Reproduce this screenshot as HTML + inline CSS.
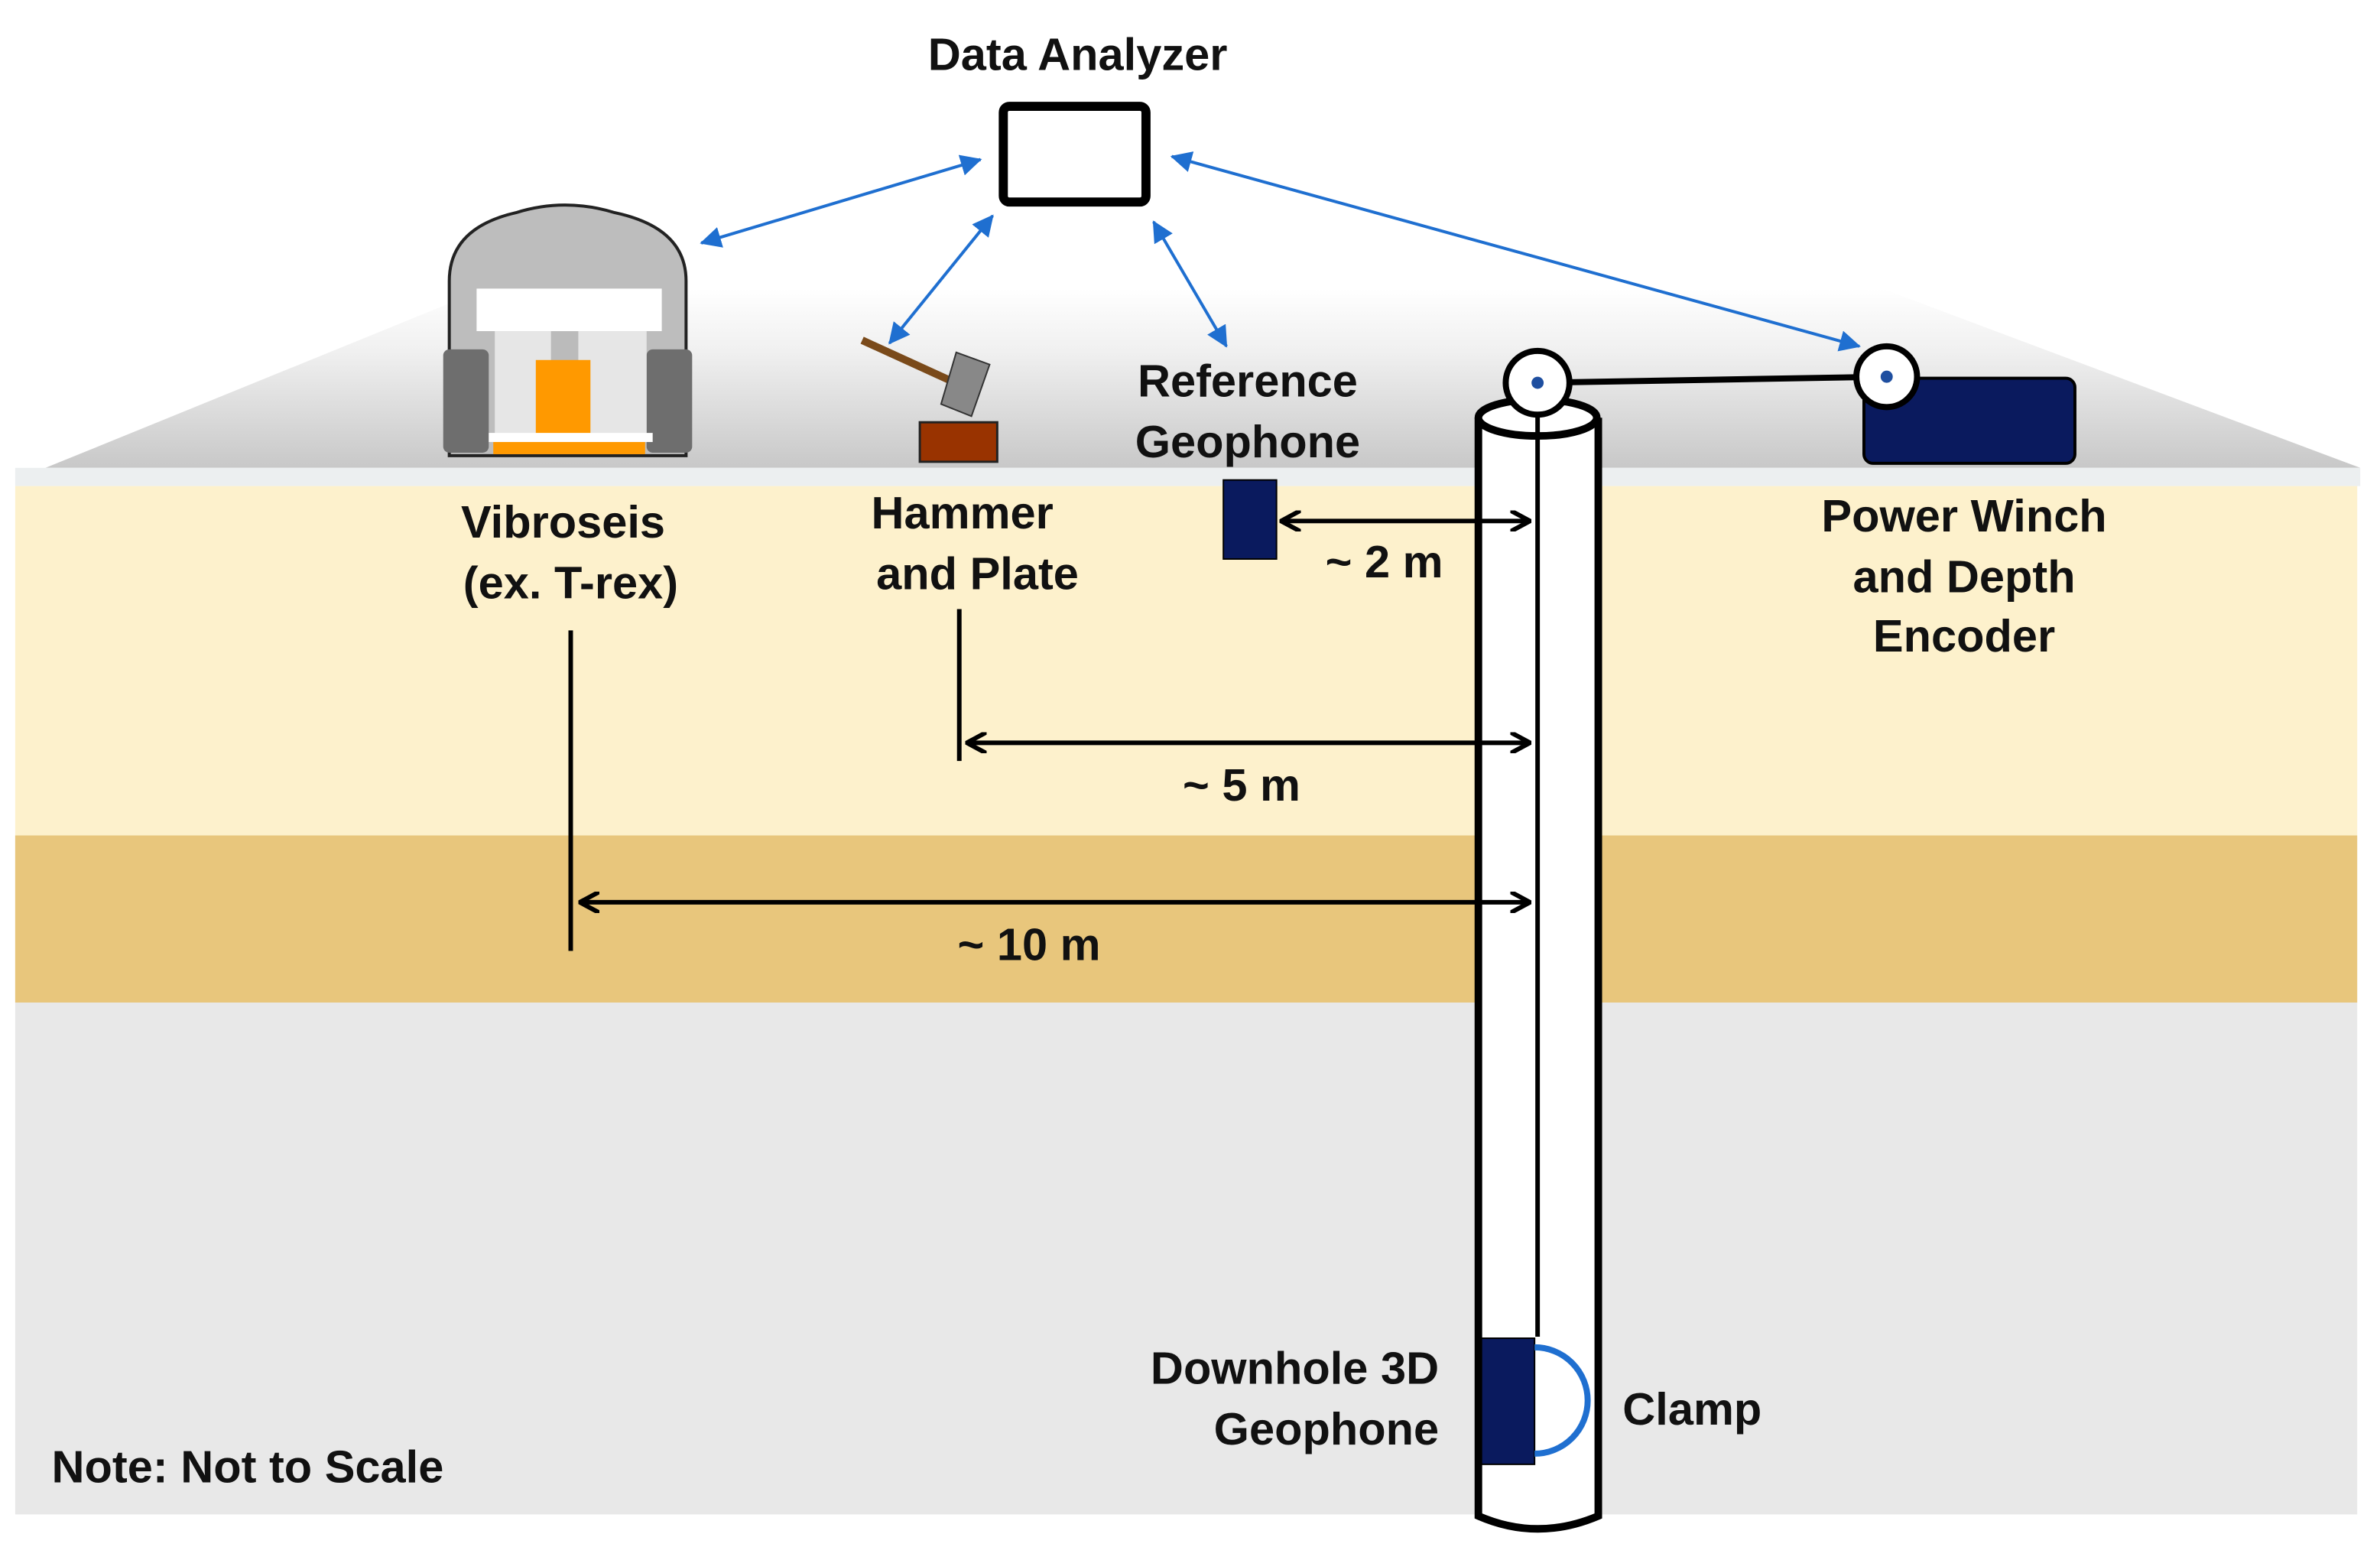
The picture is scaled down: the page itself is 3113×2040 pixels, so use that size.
<!DOCTYPE html>
<html><head><meta charset="utf-8"><style>
html,body{margin:0;padding:0;background:#fff;}
svg{display:block;}
text{font-family:"Liberation Sans",Arial,sans-serif;font-weight:bold;fill:#111;}
</style></head><body>
<svg width="3113" height="2040" viewBox="0 0 1568 1027" preserveAspectRatio="none" xmlns="http://www.w3.org/2000/svg">
<defs>
<linearGradient id="g" x1="0" y1="0" x2="0" y2="1">
<stop offset="0" stop-color="#ffffff"/><stop offset="0.35" stop-color="#f0f0f0"/><stop offset="1" stop-color="#c8c8c8"/>
</linearGradient>
<marker id="ab" markerWidth="14" markerHeight="14" refX="13" refY="7" orient="auto-start-reverse" markerUnits="userSpaceOnUse" viewBox="0 0 14 14"><path d="M0,0 L14,7 L0,14 z" fill="#1f6fd0"/></marker>
<marker id="ak" markerWidth="14" markerHeight="14" refX="12" refY="7" orient="auto-start-reverse" markerUnits="userSpaceOnUse" viewBox="0 0 14 14"><path d="M0,0 L13,7 L0,14" fill="none" stroke="#000" stroke-width="3"/></marker>
</defs>
<rect width="1568" height="1027" fill="#fff"/>
<!-- surface -->
<polygon points="320,190 1240,190 1555,308 30,308" fill="url(#g)"/>
<rect x="10" y="308" width="1545" height="12" fill="#eceff0"/>
<rect x="10" y="320" width="1543" height="230" fill="#fdf1cc"/>
<rect x="10" y="550" width="1543" height="110" fill="#e8c67c"/>
<rect x="10" y="660" width="1543" height="337" fill="#e8e8e8"/>

<!-- vibroseis truck -->
<g>
<path d="M296,300 L296,185 Q296,150 340,140 Q372,130 405,140 Q452,150 452,185 L452,300 Z" fill="#bdbdbd" stroke="#222" stroke-width="2"/>
<rect x="292" y="230" width="30" height="68" rx="4" fill="#6e6e6e"/>
<rect x="426" y="230" width="30" height="68" rx="4" fill="#6e6e6e"/>
<rect x="314" y="190" width="122" height="28" fill="#fff"/>
<rect x="326" y="218" width="100" height="72" fill="#e6e6e6"/>
<rect x="363" y="218" width="18" height="22" fill="#bbb"/>
<rect x="353" y="237" width="36" height="50" fill="#ff9900"/>
<rect x="322" y="285" width="108" height="6" fill="#fff"/>
<rect x="325" y="291" width="100" height="8" fill="#ff9900"/>
</g>

<!-- hammer and plate -->
<line x1="568" y1="224" x2="625" y2="250" stroke="#7a4a1a" stroke-width="5"/>
<polygon points="630,232 652,240 640,274 620,266" fill="#888" stroke="#333" stroke-width="1"/>
<rect x="606" y="278" width="51" height="26" fill="#993300" stroke="#222" stroke-width="1.5"/>

<!-- tablet -->
<rect x="661" y="70" width="94" height="63" rx="4" fill="#fff" stroke="#000" stroke-width="6"/>

<!-- blue arrows -->
<g stroke="#1f6fd0" stroke-width="2" fill="none">
<line x1="646" y1="105" x2="462" y2="160" marker-start="url(#ab)" marker-end="url(#ab)"/>
<line x1="654" y1="142" x2="586" y2="226" marker-start="url(#ab)" marker-end="url(#ab)"/>
<line x1="760" y1="146" x2="808" y2="228" marker-start="url(#ab)" marker-end="url(#ab)"/>
<line x1="772" y1="103" x2="1225" y2="228" marker-start="url(#ab)" marker-end="url(#ab)"/>
</g>

<!-- winch -->
<rect x="1228" y="249" width="139" height="56" rx="6" fill="#0a1a5e" stroke="#000" stroke-width="2"/>

<!-- borehole -->
<path d="M974,275 L974,998 Q1013,1015 1053,998 L1053,275" fill="#fff" stroke="#000" stroke-width="5"/>
<ellipse cx="1013" cy="275" rx="39" ry="12" fill="#fff" stroke="#000" stroke-width="5"/>
<line x1="1013" y1="252" x2="1013" y2="880" stroke="#000" stroke-width="3"/>
<line x1="1013" y1="252" x2="1243" y2="248" stroke="#000" stroke-width="4"/>
<circle cx="1013" cy="252" r="21" fill="#fff" stroke="#000" stroke-width="4"/>
<circle cx="1013" cy="252" r="4" fill="#1f4fa0"/>
<circle cx="1243" cy="248" r="20" fill="#fff" stroke="#000" stroke-width="4"/>
<circle cx="1243" cy="248" r="4" fill="#1f4fa0"/>

<!-- downhole geophone + clamp -->
<rect x="976" y="881" width="35" height="83" fill="#0a1a5e" stroke="#000" stroke-width="1"/>
<path d="M1011,887 A35,35 0 0 1 1011,957" fill="none" stroke="#1f6fd0" stroke-width="4"/>

<!-- reference geophone -->
<rect x="806" y="316" width="35" height="52" fill="#0a1a5e" stroke="#000" stroke-width="1"/>

<!-- dimension lines -->
<g stroke="#000" stroke-width="3" fill="none">
<line x1="845" y1="343" x2="1007" y2="343" marker-start="url(#ak)" marker-end="url(#ak)"/>
<line x1="638" y1="489" x2="1007" y2="489" marker-start="url(#ak)" marker-end="url(#ak)"/>
<line x1="383" y1="594" x2="1007" y2="594" marker-start="url(#ak)" marker-end="url(#ak)"/>
<line x1="632" y1="401" x2="632" y2="501"/>
<line x1="376" y1="415" x2="376" y2="626"/>
</g>

<!-- labels -->
<g font-size="30">
<text x="710" y="46" text-anchor="middle">Data Analyzer</text>
<text x="822" y="261" text-anchor="middle">Reference</text>
<text x="822" y="301" text-anchor="middle">Geophone</text>
<text x="371" y="354" text-anchor="middle">Vibroseis</text>
<text x="376" y="394" text-anchor="middle">(ex. T-rex)</text>
<text x="634" y="348" text-anchor="middle">Hammer</text>
<text x="644" y="388" text-anchor="middle">and Plate</text>
<text x="1294" y="350" text-anchor="middle">Power Winch</text>
<text x="1294" y="390" text-anchor="middle">and Depth</text>
<text x="1294" y="429" text-anchor="middle">Encoder</text>
<text x="912" y="380" text-anchor="middle">~ 2 m</text>
<text x="818" y="527" text-anchor="middle">~ 5 m</text>
<text x="678" y="632" text-anchor="middle">~ 10 m</text>
<text x="948" y="911" text-anchor="end">Downhole 3D</text>
<text x="948" y="951" text-anchor="end">Geophone</text>
<text x="1069" y="938">Clamp</text>
<text x="34" y="976">Note: Not to Scale</text>
</g>
</svg>
</body></html>
